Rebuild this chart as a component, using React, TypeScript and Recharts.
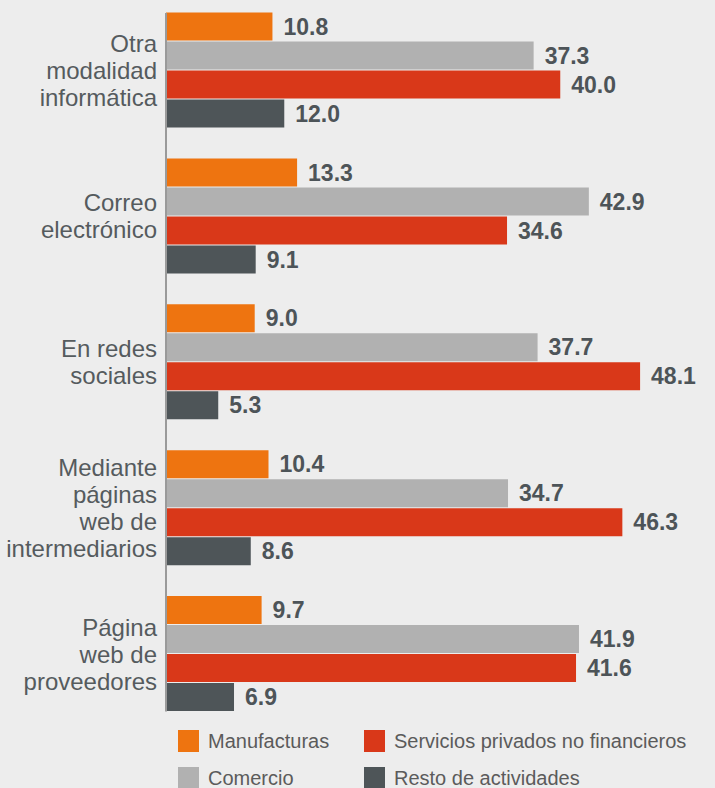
import React from "react";
import { BarChart, Bar, XAxis, YAxis, LabelList, Legend, ReferenceLine } from "recharts";

// categories, one entry per group (line breaks as drawn)
const categories = [
  "Otra|modalidad|informática",
  "Correo|electrónico",
  "En redes|sociales",
  "Mediante|páginas|web de|intermediarios",
  "Página|web de|proveedores",
];

const manufacturas = [10.8, 13.3, 9.0, 10.4, 9.7];
const comercio = [37.3, 42.9, 37.7, 34.7, 41.9];
const servicios = [40.0, 34.6, 48.1, 46.3, 41.6];
const resto = [12.0, 9.1, 5.3, 8.6, 6.9];

const seriesNames = ["Manufacturas", "Comercio", "Servicios privados no financieros", "Resto de actividades"];
const seriesKeys = ["manufacturas", "comercio", "servicios", "resto"];
const seriesColors = ["#ee7410", "#b1b1b1", "#d93819", "#4e5558"];

const data = categories.map((c, i) => ({
  cat: c,
  manufacturas: manufacturas[i],
  comercio: comercio[i],
  servicios: servicios[i],
  resto: resto[i],
}));

const FONT = "'Liberation Sans', Arial, Helvetica, sans-serif";
const GAP = 15.5;

function CategoryTick(props: any) {
  const { x, y, payload } = props;
  const lines: string[] = String(payload.value).split("|");
  const lh = 27;
  const start = y - ((lines.length - 1) * lh) / 2;
  return (
    <g>
      {lines.map((l, i) => (
        <text
          key={i}
          x={x}
          y={start + i * lh}
          dy="0.36em"
          textAnchor="end"
          fill="#555b5e"
          fontSize={24}
          fontFamily={FONT}
        >
          {l}
        </text>
      ))}
    </g>
  );
}

function AxisShape(props: any) {
  const top = Math.min(props.y1, props.y2) + GAP;
  const bottom = Math.max(props.y1, props.y2) - GAP;
  return <line x1={props.x1} x2={props.x2} y1={top} y2={bottom} stroke="#9a9a9a" strokeWidth={2} />;
}

function LegendBox(props: any) {
  const payload = [...(props.payload || [])].sort(
    (a: any, b: any) => seriesNames.indexOf(a.value) - seriesNames.indexOf(b.value)
  );
  return (
    <div
      style={{
        height: 61,
        display: "grid",
        gridTemplateRows: "37px 37px",
        gridTemplateColumns: "186px auto",
        gridAutoFlow: "column",
        paddingLeft: 178,
        paddingTop: 3,
        boxSizing: "border-box",
        fontFamily: FONT,
      }}
    >
      {payload.map((p: any, i: number) => (
        <div key={i} style={{ display: "flex", alignItems: "center", height: 22 }}>
          <span style={{ width: 21, height: 22, background: p.color, display: "inline-block" }} />
          <span style={{ marginLeft: 9, fontSize: 20, color: "#5b5b5b", whiteSpace: "nowrap" }}>{p.value}</span>
        </div>
      ))}
    </div>
  );
}

export default function App() {
  return (
    <div
      style={{
        position: "absolute",
        left: 0,
        top: 0,
        width: 715,
        height: 788,
        overflow: "hidden",
        background: "#ededed",
      }}
    >
      <BarChart
        width={715}
        height={788}
        data={data}
        layout="vertical"
        margin={{ top: -2.5, right: 0, bottom: 0, left: 0 }}
        barSize={28}
        barGap={1}
        barCategoryGap={GAP}
      >
        <XAxis type="number" domain={[0, 55.7]} hide />
        <YAxis
          type="category"
          dataKey="cat"
          width={166}
          axisLine={false}
          tickLine={false}
          tickSize={0}
          tickMargin={9}
          tick={<CategoryTick />}
          interval={0}
        />
        <ReferenceLine x={0} shape={<AxisShape />} />
        {seriesKeys.map((k, i) => (
          <Bar
            key={k}
            dataKey={k}
            name={seriesNames[i]}
            fill={seriesColors[i]}
            isAnimationActive={false}
          >
            <LabelList
              dataKey={k}
              position="right"
              offset={11}
              formatter={(v: any) => Number(v).toFixed(1)}
              fill="#4d5458"
              fontSize={23}
              fontWeight="bold"
              fontFamily={FONT}
            />
          </Bar>
        ))}
        <Legend verticalAlign="bottom" align="left" content={<LegendBox />} />
      </BarChart>
    </div>
  );
}
